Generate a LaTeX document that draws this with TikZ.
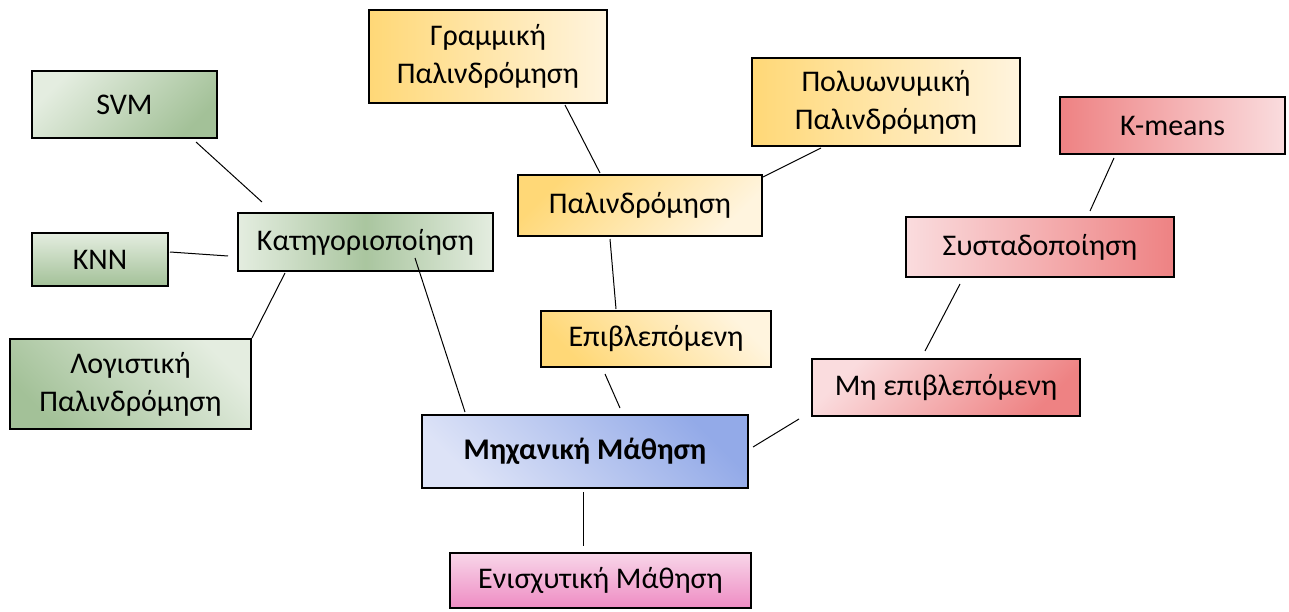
\documentclass[tikz,border=0pt]{standalone}
\usepackage{fontspec}
\setmainfont{Carlito}
\begin{document}
\begin{tikzpicture}[x=1pt,y=-1pt,
  box/.style={draw=black, line width=2pt, rectangle, inner sep=0pt, align=center,
    font=\fontsize{30}{38}\selectfont},
  link/.style={draw=black, line width=1pt},
  % colour families
  grn/.style={box}, ylw/.style={box}, red/.style={box}
]
\definecolor{gL}{HTML}{E4EDE0}\definecolor{gD}{HTML}{A3C198}
\definecolor{yL}{HTML}{FFF4DE}\definecolor{yD}{HTML}{FFD877}
\definecolor{rL}{HTML}{FADCDE}\definecolor{rD}{HTML}{EE8283}
\definecolor{bL}{HTML}{DDE3F7}\definecolor{bD}{HTML}{93AAE8}
\definecolor{pL}{HTML}{F8D6E9}\definecolor{pD}{HTML}{EE8CC3}
\useasboundingbox (0,0) rectangle (1289,612);

% classification branch
\node[grn, minimum width=185pt, minimum height=67pt,
  top color=gL, bottom color=gD, shading angle=45] (svm) at (124.5,104.5) {SVM};
\node[grn, minimum width=136pt, minimum height=53pt,
  top color=gL, bottom color=gD] (knn) at (100,259.5) {KNN};
\node[grn, minimum width=255pt, minimum height=58pt,
  left color=gL, right color=gL, middle color=gD!90!gL] (kat) at (365.5,242) {Κατηγοριοποίηση};
\node[grn, minimum width=241pt, minimum height=90pt,
  top color=gL, bottom color=gD, shading angle=-45] (log) at (130.5,384) {Λογιστική\\Παλινδρόμηση};

% regression branch
\node[ylw, minimum width=238pt, minimum height=93pt,
  left color=yD, right color=yL] (gram) at (488,56.5) {Γραμμική\\Παλινδρόμηση};
\node[ylw, minimum width=268pt, minimum height=88pt,
  left color=yD, right color=yL] (poly) at (886,102) {Πολυωνυμική\\Παλινδρόμηση};
\node[ylw, minimum width=244pt, minimum height=61pt,
  top color=yD, bottom color=yL, shading angle=45] (pal) at (640,205.5) {Παλινδρόμηση};
\node[ylw, minimum width=230pt, minimum height=56pt,
  top color=yL, bottom color=yD, shading angle=-45] (epi) at (656,339) {Επιβλεπόμενη};

% clustering branch
\node[red, minimum width=225pt, minimum height=57pt,
  left color=rD, right color=rL] (kmeans) at (1172.5,125.5) {K-means};
\node[red, minimum width=268pt, minimum height=60pt,
  left color=rL, right color=rD] (sys) at (1040,247) {Συσταδοποίηση};
\node[red, minimum width=268pt, minimum height=57pt,
  top color=rL, bottom color=rD, shading angle=45] (mh) at (946,387.5) {Μη επιβλεπόμενη};

% root and reinforcement learning
\node[box, minimum width=326pt, minimum height=73pt,
  top color=bD, bottom color=bL, shading angle=-45, font=\fontsize{30}{38}\selectfont\bfseries]
  (mech) at (585,451.5) {Μηχανική Μάθηση};
\node[box, minimum width=301pt, minimum height=55pt,
  top color=pL, bottom color=pD] (enis) at (600.5,580.5) {Ενισχυτική Μάθηση};

% connectors
\draw[link] ([shift={(165,3)}]svm.south west) -- ([shift={(25,-10)}]kat.north west);
\draw[link] ([shift={(1,-7.5)}]knn.east) -- ([shift={(-9,14)}]kat.west);
\draw[link] ([shift={(48,1)}]kat.south west) -- (log.north east);
\draw[link] ([shift={(-79,-14)}]kat.south east) -- ([shift={(44,-2)}]mech.north west);
\draw[link] ([shift={(77,1)}]gram.south) -- ([shift={(-40,-1)}]pal.north);
\draw[link] ([shift={(70,1)}]poly.south west) -- ([shift={(0,3)}]pal.north east);
\draw[link] ([shift={(-30,2)}]pal.south) -- ([shift={(-40,-1)}]epi.north);
\draw[link] ([shift={(-51,6)}]epi.south) -- ([shift={(35,-6)}]mech.north);
\draw[link] ([shift={(-58.5,3)}]kmeans.south) -- ([shift={(50,-5)}]sys.north);
\draw[link] ([shift={(-80,6)}]sys.south) -- ([shift={(-21,-7)}]mh.north);
\draw[link] ([shift={(-12,31.5)}]mh.west) -- ([shift={(4,-4.5)}]mech.east);
\draw[link] ([shift={(-2,3)}]mech.south) -- ([shift={(-17.5,-6)}]enis.north);
\end{tikzpicture}
\end{document}
